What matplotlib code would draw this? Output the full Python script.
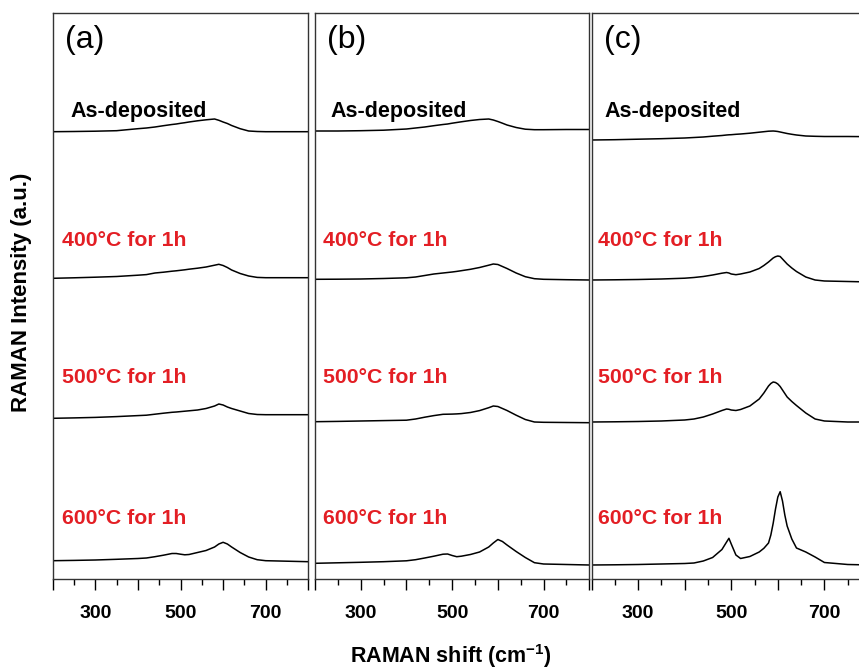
import matplotlib
matplotlib.use("Agg")
import matplotlib.pyplot as plt
from matplotlib.ticker import FixedLocator, FixedFormatter

plt.rcParams['font.family'] = ['Liberation Sans', 'DejaVu Sans']
plt.rcParams['mathtext.fontset'] = 'custom'
plt.rcParams['mathtext.rm'] = 'Liberation Sans'
plt.rcParams['mathtext.bf'] = 'Liberation Sans:bold'
plt.rcParams['mathtext.default'] = 'bf'

# ---------------- data (Raman shift, cm-1; stacked intensity, a.u.) ----------------
shift_ab = [200, 250, 300, 350, 400, 420, 440, 460, 480, 490, 500, 510, 520, 540,
            560, 580, 590, 600, 610, 620, 640, 660, 680, 700, 750, 800]

a_asdep = [447.3, 447.5, 447.8, 448.3, 450.3, 451, 452, 453.3, 454.5, 455, 455.7, 456.3, 457, 458.2,
           459.2, 460, 458.7, 457, 455.5, 453.5, 450.3, 448, 447.5, 447.3, 447.3, 447.3]
a_400 = [300.7, 301.2, 301.8, 302.5, 303.8, 304.4, 306, 306.8, 307.8, 308.2, 308.7, 309.2, 309.8, 310.8,
         312, 313.8, 314.7, 313.5, 311.5, 309, 305.5, 303, 301.6, 301.3, 301.3, 301.3]
a_500 = [160.7, 161.1, 161.6, 162.4, 163.4, 163.8, 164.8, 165.8, 166.7, 167, 167.4, 167.8, 168.2, 169,
         170.5, 173, 175, 174, 172, 170.5, 168, 165.5, 164.5, 164.3, 164.3, 164.3]
a_600 = [18.3, 18.6, 19, 19.7, 20.5, 21, 22.3, 23.8, 25.5, 25.5, 24.8, 24.2, 24.5, 26.5,
         28.5, 32, 35, 36.7, 35, 32, 26.5, 22, 19.3, 18.3, 17.8, 17.3]

b_asdep = [448, 448, 448.3, 448.8, 450, 451, 452, 453.3, 454.5, 455, 455.8, 456.5, 457.2, 458.5,
           459.5, 460, 459, 457.5, 455.8, 454, 451.5, 449.8, 449.3, 449.3, 449.5, 449.5]
b_400 = [299.7, 299.8, 300, 300.5, 301.2, 302, 303.5, 305, 306, 306.5, 307, 307.6, 308.3, 309.7,
         311.5, 313.8, 315, 314.5, 312.5, 310.5, 306, 302.3, 300.3, 299.7, 299.3, 299]
b_500 = [157.3, 157.6, 158, 158.4, 158.8, 160, 161.8, 163.4, 164.7, 164.8, 164.9, 165.1, 165.4, 166.5,
         168.4, 171.3, 173, 172.5, 170.5, 168.5, 163.8, 159.5, 157, 156.7, 156.5, 156.3]
b_600 = [15.7, 16.2, 16.7, 17.3, 18.2, 19.3, 21, 22.8, 24.8, 25, 23.5, 22.3, 22.8, 24.5,
         27, 32, 36, 39.5, 37.5, 34, 27.5, 21.5, 16.3, 15, 14.5, 14]

shift_c = [200, 250, 300, 350, 400, 420, 440, 460, 480, 490, 495, 500, 510, 520, 540, 560, 570,
           580, 585, 590, 595, 600, 605, 610, 615, 620, 630, 640, 660, 680, 700, 750, 800]
c_asdep = [439, 439.3, 439.8, 440.3, 441, 441.5, 442, 442.8, 443.5, 444, 444.2, 444.3, 444.7, 445, 445.8,
           446.8, 447.3, 447.8, 447.9, 448, 447.8, 447.5, 447, 446.5, 446, 445.5, 444.7, 444, 443,
           442.7, 442.5, 442.5, 442.3]
c_400 = [299, 299.2, 299.5, 300, 300.8, 301.5, 302.5, 304, 305.8, 306.5, 306, 305, 304.3, 305, 307,
         310.5, 313.5, 317, 319, 321, 322.3, 323, 322.5, 320, 317.5, 315, 311, 307.5, 302,
         299, 298, 297.5, 297]
c_500 = [157, 157.2, 157.5, 158, 159, 160, 162, 165, 168.5, 170, 169.7, 169, 168.5, 169.5, 173,
         180, 186, 193, 195.5, 197, 196.5, 195, 192.5, 189, 185.5, 182, 177.5, 173.5, 166,
         160, 158, 157, 157]
c_600 = [14, 14.2, 14.5, 15, 15.5, 16, 18, 21.5, 29.5, 37, 40.7, 35, 24, 20.5, 22.5,
         27, 30.7, 36, 44, 55.7, 70, 82, 87.3, 78, 64, 53, 40, 31, 27,
         22, 16.5, 14.5, 14]

panel_tags = ['(a)', '(b)', '(c)']
condition_labels = ['As-deposited', '400°C for 1h', '500°C for 1h', '600°C for 1h']
tick_values = [200, 300, 400, 500, 600, 700, 800]
tick_labels = ['', '300', '', '500', '', '700', '']
minor_values = [250, 350, 450, 550, 650, 750]

# ---------------- layout ----------------
W, H = 859, 671
fig = plt.figure(figsize=(W / 100, H / 100), dpi=100)

def fx(px):
    return px / W

def fy(py):
    return 1 - py / H

top_px, bot_px = 12.7, 579.0
panels = [
    (52.7, 308.3, shift_ab, [a_asdep, a_400, a_500, a_600]),
    (315.0, 589.3, shift_ab, [b_asdep, b_400, b_500, b_600]),
    (591.5, 871.0, shift_c, [c_asdep, c_400, c_500, c_600]),
]
label_x = [(70, 62), (330, 323), (604, 598)]
label_y = [111, 241, 378, 518]

for i, (l, r, xs, series) in enumerate(panels):
    ax = fig.add_axes([fx(l), fy(bot_px), (r - l) / W, (bot_px - top_px) / H])
    for ys in series:
        ax.plot(xs, ys, color='black', lw=1.1)
    ax.set_xlim(200, 800)
    ax.set_ylim(0, bot_px - top_px)
    ax.xaxis.set_major_locator(FixedLocator(tick_values))
    ax.xaxis.set_major_formatter(FixedFormatter(tick_labels))
    ax.xaxis.set_minor_locator(FixedLocator(minor_values))
    ax.tick_params(axis='x', which='major', direction='out', length=8, width=1.0,
                   labelsize=14, pad=11)
    ax.tick_params(axis='x', which='minor', direction='out', length=4.5, width=1.0)
    for lab in ax.get_xticklabels():
        lab.set_fontweight('bold')
    ax.set_yticks([])
    for s in ax.spines.values():
        s.set_linewidth(1.0)
        s.set_color('#333333')

    fig.text(fx(l + 12), fy(40), panel_tags[i], fontsize=23, ha='left', va='center')
    fig.text(fx(label_x[i][0]), fy(label_y[0]), condition_labels[0], fontsize=15.5,
             fontweight='bold', ha='left', va='center', color='black')
    for k in range(1, 4):
        fig.text(fx(label_x[i][1]), fy(label_y[k]), condition_labels[k], fontsize=15.3,
                 fontweight='bold', ha='left', va='center', color='#e31e24')

fig.text(fx(451), fy(656), 'RAMAN shift (cm$^{-1}$)', fontsize=15.5, fontweight='bold',
         ha='center', va='center')
fig.text(fx(22), fy(292), 'RAMAN Intensity (a.u.)', fontsize=16, fontweight='bold',
         ha='center', va='center', rotation=90)

fig.savefig('out.png', dpi=100)
